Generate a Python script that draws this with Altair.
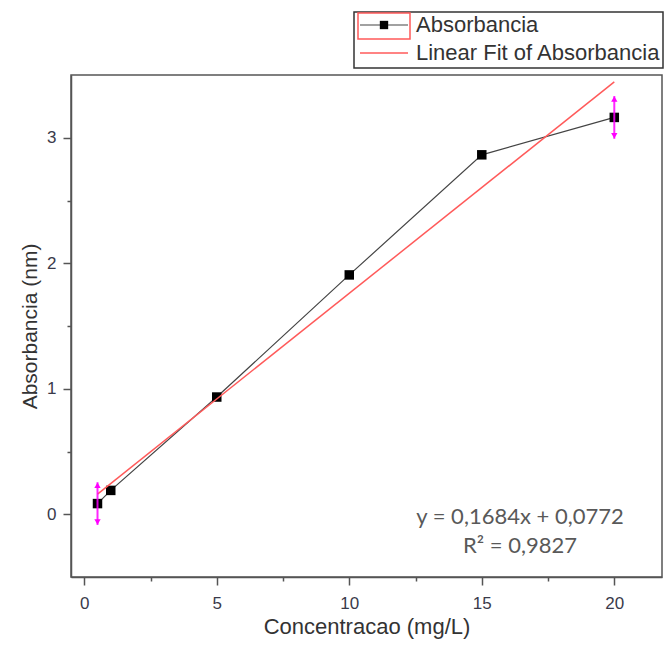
import altair as alt
import pandas as pd

# ---- data ----
conc = [0.5, 1, 5, 10, 15, 20]
absorb = [0.085, 0.19, 0.934, 1.907, 2.864, 3.162]
fit_x = [0.5, 20]
fit_y = [0.161, 3.445]
err_x = [0.5, 20]
err_y = [0.085, 3.162]
err_d = [0.17, 0.17]
x_ticks = [0, 2.5, 5, 7.5, 10, 12.5, 15, 17.5, 20]
y_ticks = [0, 0.5, 1, 1.5, 2, 2.5, 3]
eq_lines = ["y = 0,1684x + 0,0772", "R\u00b2 = 0,9827"]
legend_labels = ["Absorbancia", "Linear Fit of Absorbancia"]

FONT = "Liberation Sans"
FRAME = "#555555"
RED = "#ff5a5a"
MAG = "#ff00ff"

df = pd.DataFrame({"x": conc, "y": absorb})
fit = pd.DataFrame({"x": fit_x, "y": fit_y})
err = pd.DataFrame({"x": err_x,
                    "lo": [a - d for a, d in zip(err_y, err_d)],
                    "hi": [a + d for a, d in zip(err_y, err_d)]})
one = pd.DataFrame({"k": [0]})

xs = alt.Scale(domain=[-0.5, 21.8], nice=False, zero=False)
ys = alt.Scale(domain=[-0.5, 3.5], nice=False, zero=False)

x_axis = alt.Axis(
    values=x_ticks, grid=False,
    labelExpr="datum.value % 5 === 0 ? '' + datum.value : ''",
    tickSize={"condition": {"test": "datum.value % 5 === 0", "value": 8}, "value": 4},
    title="Concentracao (mg/L)", titleY=49, titleBaseline="middle", titleFontSize=22,
    labelPadding=10,
)
y_axis = alt.Axis(
    values=y_ticks, grid=False,
    labelExpr="datum.value % 1 === 0 ? '' + datum.value : ''",
    tickSize={"condition": {"test": "datum.value % 1 === 0", "value": 8}, "value": 4},
    title="Absorbancia (nm)", titleX=-41, titleY=251, titleBaseline="middle",
    titleAlign="center", titleAngle=-90,
    labelPadding=7,
)

X = alt.X("x:Q", scale=xs, axis=x_axis, title="Concentracao (mg/L)")
Y = alt.Y("y:Q", scale=ys, axis=y_axis, title="Absorbancia (nm)")

line = alt.Chart(df).mark_line(color="#444444", strokeWidth=1.2).encode(x=X, y=Y)
pts = alt.Chart(df).mark_point(shape="square", filled=True, color="black",
                                size=90, opacity=1).encode(x=X, y=Y)
fitline = alt.Chart(fit).mark_line(color=RED, strokeWidth=1.5).encode(x=X, y=Y)
errbar = alt.Chart(err).mark_rule(color=MAG, strokeWidth=2, opacity=0.85).encode(
    x=X,
    y=alt.Y("lo:Q", scale=ys, axis=y_axis, title="Absorbancia (nm)"),
    y2="hi:Q",
)
arr_up = alt.Chart(err).mark_point(shape="triangle-up", filled=True, color=MAG,
                                    size=40, opacity=1, yOffset=3).encode(
    x=X, y=alt.Y("hi:Q", scale=ys, axis=y_axis, title="Absorbancia (nm)"))
arr_dn = alt.Chart(err).mark_point(shape="triangle-down", filled=True, color=MAG,
                                    size=40, opacity=1, yOffset=-3).encode(
    x=X, y=alt.Y("lo:Q", scale=ys, axis=y_axis, title="Absorbancia (nm)"))

# equation annotation
eq1 = alt.Chart(one).mark_text(text=eq_lines[0], font="Lato", fontSize=22,
                               color="#595959", align="center", baseline="middle").encode(
    x=alt.value(449), y=alt.value(442))
eq2 = alt.Chart(one).mark_text(text=eq_lines[1], font="Lato", fontSize=22,
                               color="#595959", align="center", baseline="middle").encode(
    x=alt.value(449), y=alt.value(471))

# legend (drawn above the plot area)
lg_box = alt.Chart(one).mark_rect(fill="white", stroke="#333333", strokeWidth=1.5).encode(
    x=alt.value(283), x2=alt.value(592), y=alt.value(-63), y2=alt.value(-7))
lg_sel = alt.Chart(one).mark_rect(fill="white", fillOpacity=0, stroke=RED, strokeWidth=1.5).encode(
    x=alt.value(287), x2=alt.value(339), y=alt.value(-62), y2=alt.value(-36))
lg_l1 = alt.Chart(one).mark_rule(color="#444444", strokeWidth=1.2).encode(
    x=alt.value(289), x2=alt.value(337), y=alt.value(-50))
lg_sq = alt.Chart(one).mark_point(shape="square", filled=True, color="black",
                                  size=70, opacity=1).encode(
    x=alt.value(313), y=alt.value(-50))
lg_t1 = alt.Chart(one).mark_text(text=legend_labels[0], font=FONT, fontSize=22,
                                 color="#333333", align="left", baseline="middle").encode(
    x=alt.value(345), y=alt.value(-50))
lg_l2 = alt.Chart(one).mark_rule(color=RED, strokeWidth=1.5).encode(
    x=alt.value(289), x2=alt.value(337), y=alt.value(-22))
lg_t2 = alt.Chart(one).mark_text(text=legend_labels[1], font=FONT, fontSize=22,
                                 color="#333333", align="left", baseline="middle").encode(
    x=alt.value(345), y=alt.value(-22))

chart = alt.layer(
    line, pts, fitline, errbar, arr_up, arr_dn, eq1, eq2,
    lg_box, lg_sel, lg_l1, lg_sq, lg_t1, lg_l2, lg_t2,
).properties(
    width=591, height=502,
    autosize=alt.AutoSizeParams(type="none"),
    padding={"left": 63, "top": 67, "right": 2, "bottom": 64},
).configure_view(
    stroke=FRAME, strokeWidth=1.5,
).configure_axis(
    labelFont=FONT, labelFontSize=17, labelColor="#3a3a4a",
    titleFont=FONT, titleFontSize=21, titleFontWeight="normal", titleColor="#333333",
    domainColor=FRAME, domainWidth=1.5, tickColor=FRAME, tickWidth=1.5,
)

chart.save("out.html", embed_options={"renderer": "svg", "actions": False})
